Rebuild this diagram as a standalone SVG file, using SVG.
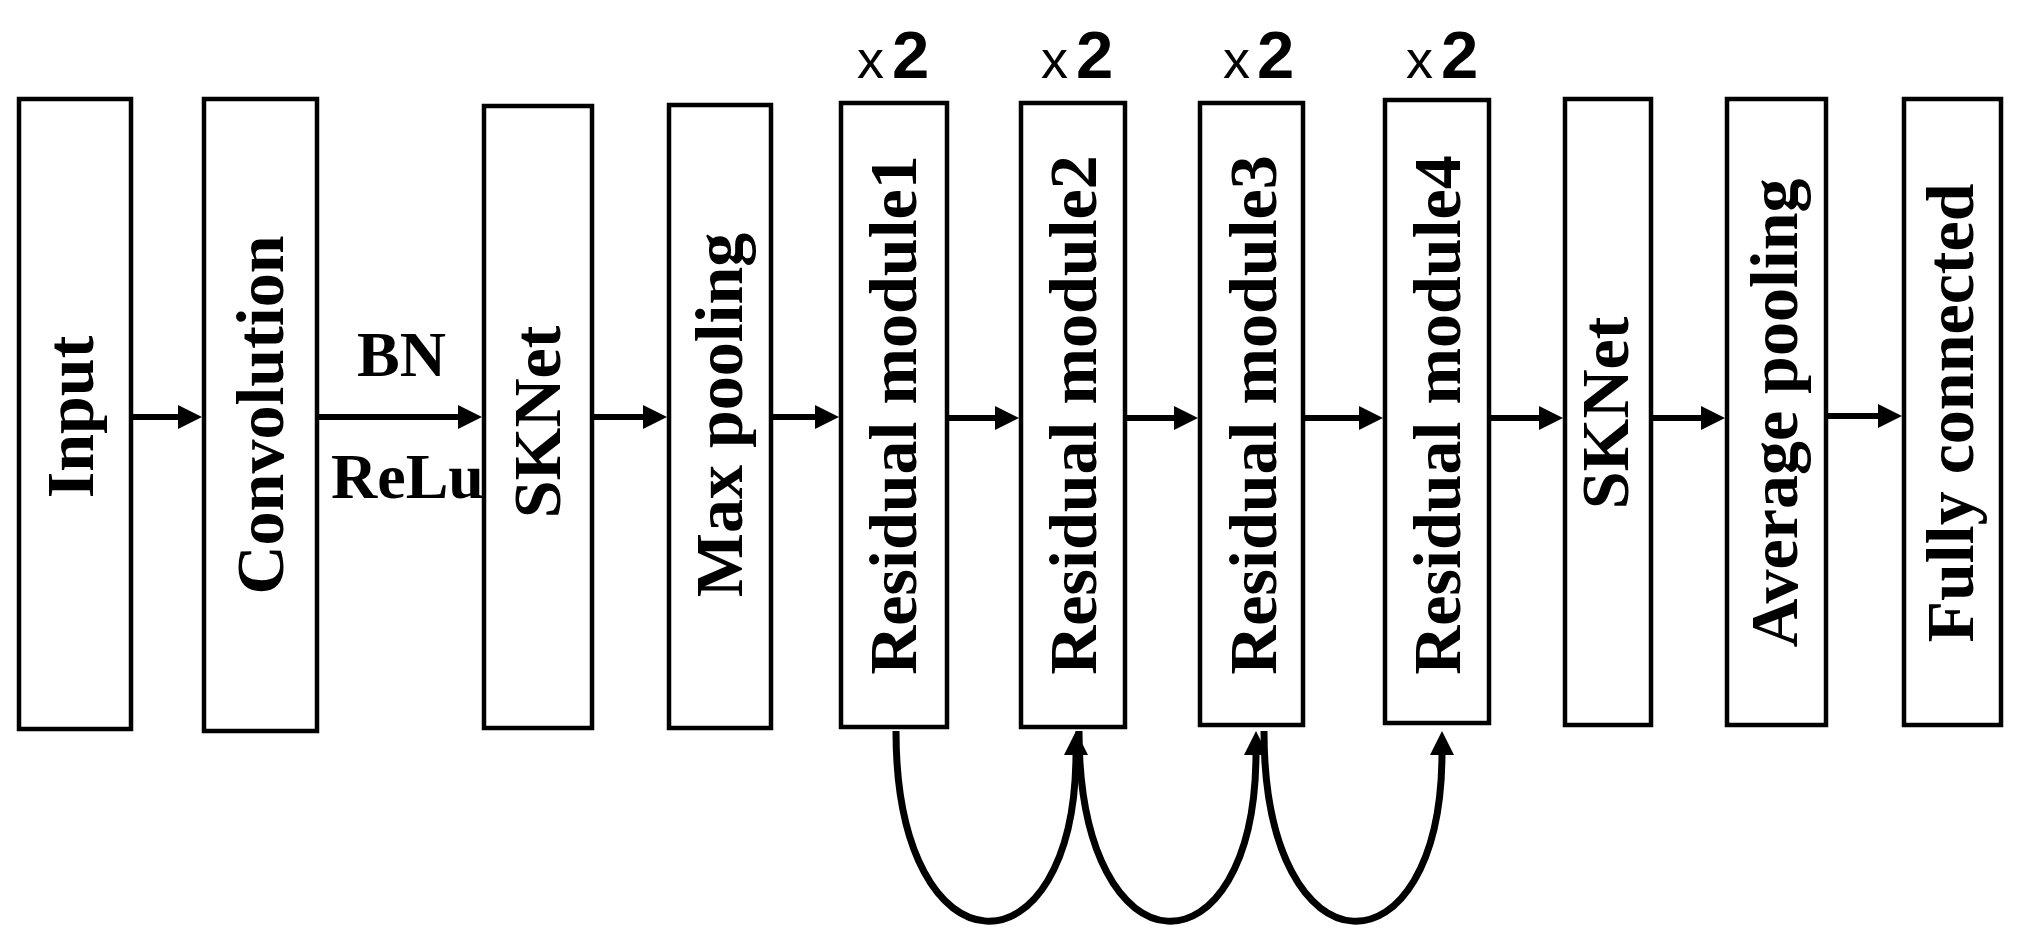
<svg xmlns="http://www.w3.org/2000/svg" width="2026" height="946" viewBox="0 0 2026 946">
<style>
.box{fill:#fff;stroke:#000;stroke-width:4.5}
.lbl{font-family:"Liberation Serif","Times New Roman",serif;font-weight:bold;font-size:68px;fill:#000;text-anchor:middle}
.side{font-family:"Liberation Serif","Times New Roman",serif;font-weight:bold;font-size:64px;fill:#000}
.rx{font-family:"Liberation Sans",Arial,sans-serif;font-size:54px;fill:#000}
.r2{font-family:"Liberation Sans",Arial,sans-serif;font-weight:bold;font-size:67px;fill:#000}
.arr{fill:none;stroke:#000;stroke-width:6;marker-end:url(#ah)}
.cur{fill:none;stroke:#000;stroke-width:7;marker-end:url(#ah)}
</style>
<defs>
<marker id="ah" markerUnits="userSpaceOnUse" markerWidth="24" markerHeight="24" refX="3" refY="12" orient="auto">
<path d="M0,0 L24,12 L0,24 Z" fill="#000"/>
</marker>
</defs>
<rect width="2026" height="946" fill="#fff"/>
<g id="connectors">
<path class="arr" d="M133,417 H181"/>
<path class="arr" d="M319,417 H461"/>
<path class="arr" d="M594,417 H646"/>
<path class="arr" d="M773,417 H818"/>
<path class="arr" d="M949,418 H998"/>
<path class="arr" d="M1127,418 H1177"/>
<path class="arr" d="M1305,418 H1362"/>
<path class="arr" d="M1491,418 H1542"/>
<path class="arr" d="M1653,418 H1704"/>
<path class="arr" d="M1828,416 H1881"/>
<path class="cur" d="M896,731 C896,981 1076,981 1076,752"/>
<path class="cur" d="M1079,731 C1079,981 1256,981 1256,752"/>
<path class="cur" d="M1264,731 C1264,981 1442,981 1442,752"/>
<text class="side" x="357" y="376">BN</text>
<text class="side" x="331" y="498">ReLu</text>
</g>
<g id="input"><rect class="box" x="19" y="99" width="112" height="630"/><text class="lbl" transform="translate(93,417) rotate(-90)">Input</text></g>
<g id="convolution"><rect class="box" x="204" y="99" width="113" height="632"/><text class="lbl" transform="translate(283,415) rotate(-90)">Convolution</text></g>
<g id="sknet1"><rect class="box" x="484" y="106" width="108" height="622"/><text class="lbl" transform="translate(560,422) rotate(-90)">SKNet</text></g>
<g id="maxpool"><rect class="box" x="669" y="105" width="102" height="623"/><text class="lbl" transform="translate(742,415) rotate(-90)">Max pooling</text></g>
<g id="res1"><rect class="box" x="841" y="103" width="106" height="624"/><text class="lbl" transform="translate(916,415) rotate(-90)">Residual module1</text><text class="rx" x="857" y="78">x</text><text class="r2" x="892" y="78">2</text></g>
<g id="res2"><rect class="box" x="1021" y="103" width="104" height="624"/><text class="lbl" transform="translate(1096,415) rotate(-90)">Residual module2</text><text class="rx" x="1041" y="78">x</text><text class="r2" x="1076" y="78">2</text></g>
<g id="res3"><rect class="box" x="1200" y="103" width="103" height="622"/><text class="lbl" transform="translate(1276,415) rotate(-90)">Residual module3</text><text class="rx" x="1223" y="78">x</text><text class="r2" x="1257" y="78">2</text></g>
<g id="res4"><rect class="box" x="1385" y="100" width="104" height="623"/><text class="lbl" transform="translate(1460,415) rotate(-90)">Residual module4</text><text class="rx" x="1406" y="78">x</text><text class="r2" x="1441" y="78">2</text></g>
<g id="sknet2"><rect class="box" x="1565" y="99" width="86" height="626"/><text class="lbl" transform="translate(1628,413) rotate(-90)">SKNet</text></g>
<g id="avgpool"><rect class="box" x="1727" y="99" width="99" height="626"/><text class="lbl" transform="translate(1797,413) rotate(-90)">Average pooling</text></g>
<g id="fc"><rect class="box" x="1904" y="99" width="97" height="626"/><text class="lbl" transform="translate(1973,413) rotate(-90)">Fully connected</text></g>
</svg>
